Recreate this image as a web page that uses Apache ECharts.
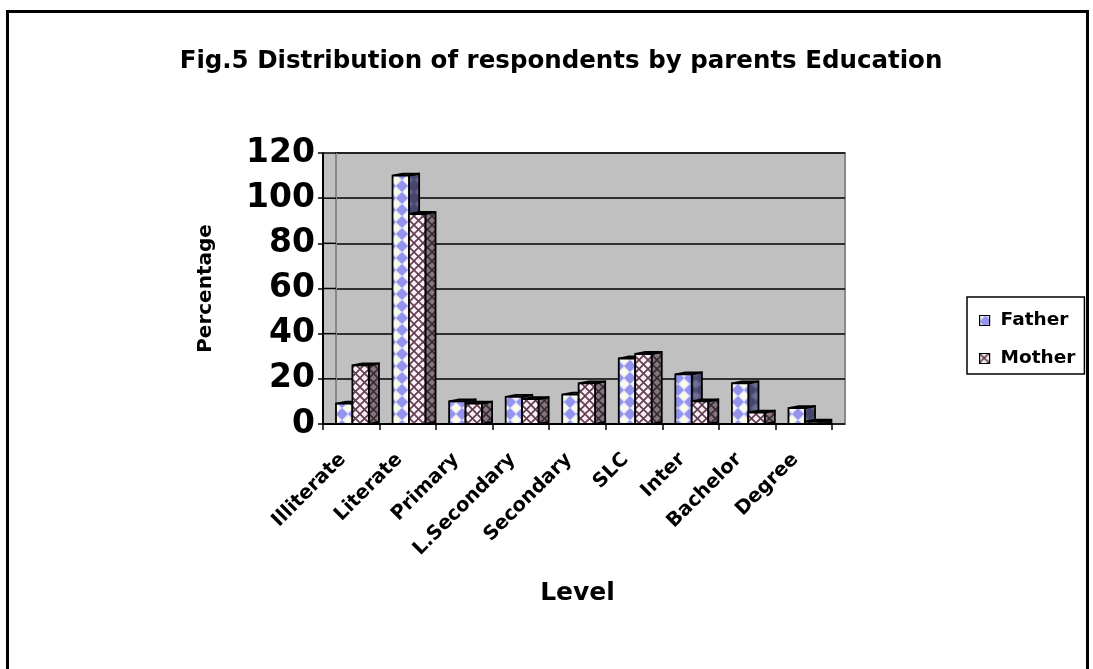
<!DOCTYPE html>
<html>
<head>
<meta charset="utf-8">
<title>Distribution of respondents by parents Education</title>
<script src="https://cdn.jsdelivr.net/npm/echarts@6/dist/echarts.min.js"></script>
<style>
  html, body { margin: 0; padding: 0; background: #ffffff; }
  #chart { width: 1093px; height: 669px; }
</style>
</head>
<body>
<div id="chart"></div>
<script>
// Education levels and respondent counts per parent
const categories = ['Illiterate', 'Literate', 'Primary', 'L.Secondary', 'Secondary', 'SLC', 'Inter', 'Bachelor', 'Degree'];
const fatherValues = [9, 110, 10, 12, 13, 29, 22, 18, 7];
const motherValues = [26, 93, 9, 11, 18, 31, 10, 5, 1];
const yTicks = [0, 20, 40, 60, 80, 100, 120];

const FONT = 'DejaVu Sans';

// Layout of the pseudo-3D plot: front plane plus a back wall shifted right
const plotLeft = 323, plotTop = 153, plotWidth = 509, plotHeight = 271, wallDepth = 13;

function makeTile(w, h, draw) {
  const c = document.createElement('canvas');
  c.width = w; c.height = h;
  draw(c.getContext('2d'), w, h);
  return c;
}
// Checker of diamonds: coloured diamond in the middle, pale diamonds at the corners
function diamondTile(bg, fg, pale) {
  return makeTile(12, 12, (ctx) => {
    ctx.fillStyle = bg; ctx.fillRect(0, 0, 12, 12);
    ctx.fillStyle = fg;
    ctx.beginPath(); ctx.moveTo(6, 0); ctx.lineTo(12, 6); ctx.lineTo(6, 12); ctx.lineTo(0, 6); ctx.closePath(); ctx.fill();
    ctx.fillStyle = pale;
    [[0, 0], [12, 0], [0, 12], [12, 12]].forEach(([cx, cy]) => {
      ctx.beginPath(); ctx.moveTo(cx, cy - 4); ctx.lineTo(cx + 4, cy); ctx.lineTo(cx, cy + 4); ctx.lineTo(cx - 4, cy); ctx.closePath(); ctx.fill();
    });
  });
}
function hatchTile(bg, fg) {
  return makeTile(9, 9, (ctx) => {
    ctx.fillStyle = bg; ctx.fillRect(0, 0, 9, 9);
    ctx.strokeStyle = fg; ctx.lineWidth = 1.6;
    ctx.beginPath(); ctx.moveTo(-1, -1); ctx.lineTo(10, 10); ctx.moveTo(10, -1); ctx.lineTo(-1, 10); ctx.stroke();
  });
}
const pat = (canvas) => ({ image: canvas, repeat: 'repeat' });

const fatherFront = pat(diamondTile('#e6e8fb', '#9494ec', '#fbfde6'));
const fatherSide = pat(diamondTile('#55557a', '#46466c', '#6e6e94'));
const motherFront = pat(hatchTile('#fbeef5', '#5e3e4e'));
const motherSide = pat(hatchTile('#84767e', '#3a2a34'));

// Draws one column as a front face with a top and a right-hand side face
function columnRenderer(offsetRatio, front, side) {
  return function (params, api) {
    const idx = api.value(0);
    const v = api.value(1);
    const base = api.coord([idx, 0]);
    const top = api.coord([idx, v]);
    const band = api.size([1, 0])[0];
    const w = band * 0.29, dx = band * 0.18, dy = 2;
    const x0 = base[0] + band * offsetRatio, x1 = x0 + w;
    const yb = base[1], yt = top[1];
    const edge = { stroke: '#000', lineWidth: 1.8 };
    return {
      type: 'group',
      children: [
        { type: 'polygon', shape: { points: [[x1, yt], [x1 + dx, yt - dy], [x1 + dx, yb - dy], [x1, yb]] }, style: Object.assign({ fill: side }, edge) },
        { type: 'polygon', shape: { points: [[x0, yt], [x1, yt], [x1 + dx, yt - dy], [x0 + dx, yt - dy]] }, style: Object.assign({ fill: side }, edge) },
        { type: 'rect', shape: { x: x0, y: yt, width: w, height: yb - yt }, style: Object.assign({ fill: front }, edge) }
      ]
    };
  };
}

// Left side wall: grey strip with short grid segments joining the back wall
function wallRenderer(params, api) {
  const cs = params.coordSys;
  const y = api.coord([0, api.value(1)])[1];
  const children = [];
  if (params.dataIndex === 0) {
    children.push({ type: 'rect', shape: { x: cs.x + 1, y: cs.y, width: wallDepth, height: cs.height }, style: { fill: '#c0c0c0' } });
    children.push({ type: 'line', shape: { x1: cs.x + wallDepth, y1: cs.y, x2: cs.x + wallDepth, y2: cs.y + cs.height }, style: { stroke: '#888', lineWidth: 2 } });
  }
  children.push({ type: 'line', shape: { x1: cs.x, y1: y, x2: cs.x + wallDepth, y2: y }, style: { stroke: '#000', lineWidth: 1.5 } });
  return { type: 'group', children };
}

const chart = echarts.init(document.getElementById('chart'), null, { renderer: 'canvas' });

chart.setOption({
  backgroundColor: '#ffffff',
  animation: false,
  title: {
    text: 'Fig.5 Distribution of respondents by parents Education',
    left: 556, top: 44, textAlign: 'center',
    textStyle: { fontFamily: FONT, fontSize: 24.5, fontWeight: 'bold', color: '#000' }
  },
  legend: {
    orient: 'vertical', left: 967, top: 297,
    borderColor: '#000', borderWidth: 1.5,
    padding: [14, 9, 6, 12],
    itemWidth: 10, itemHeight: 10, itemGap: 19,
    textStyle: { fontFamily: FONT, fontSize: 18.5, fontWeight: 'bold', color: '#000', padding: [0, 0, 0, 6] },
    data: [
      { name: 'Father', icon: 'rect', itemStyle: { color: fatherFront, borderColor: '#000', borderWidth: 1.2 } },
      { name: 'Mother', icon: 'rect', itemStyle: { color: motherFront, borderColor: '#000', borderWidth: 1.2 } }
    ]
  },
  graphic: [{
    type: 'rect', silent: true, z: 10,
    shape: { x: 7.5, y: 11.5, width: 1080, height: 720 },
    style: { fill: 'none', stroke: '#000', lineWidth: 3 }
  }],
  grid: [
    { left: plotLeft + wallDepth, top: plotTop, width: plotWidth, height: plotHeight, show: true,
      backgroundColor: '#c0c0c0', borderColor: '#888', borderWidth: 2 },
    { left: plotLeft, top: plotTop, width: plotWidth, height: plotHeight }
  ],
  xAxis: [
    { gridIndex: 0, type: 'category', data: categories, show: false },
    { gridIndex: 1, type: 'category', data: categories, z: 3,
      axisLine: { lineStyle: { color: '#000', width: 2 } },
      axisTick: { show: true, length: 6, lineStyle: { color: '#000', width: 1.5 } },
      axisLabel: { interval: 0, rotate: 45, margin: 24, padding: [0, 12, 0, 0], color: '#000', fontFamily: FONT, fontSize: 19.5, fontWeight: 'bold' },
      name: 'Level', nameLocation: 'middle', nameGap: 157,
      nameTextStyle: { fontFamily: FONT, fontSize: 25, fontWeight: 'bold', color: '#000' }
    }
  ],
  yAxis: [
    { gridIndex: 0, type: 'value', min: 0, max: 120, interval: 20,
      axisLine: { show: false }, axisTick: { show: false }, axisLabel: { show: false },
      splitLine: { lineStyle: { color: '#000', width: 1.5 } } },
    { gridIndex: 1, type: 'value', min: 0, max: 120, interval: 20, z: 3,
      axisLine: { show: true, lineStyle: { color: '#000', width: 2 } },
      axisTick: { show: true, length: 5, lineStyle: { color: '#000', width: 1.5 } },
      axisLabel: { margin: 8, color: '#000', fontFamily: FONT, fontSize: 33, fontWeight: 'bold' },
      splitLine: { show: false },
      name: 'Percentage', nameLocation: 'middle', nameGap: 107, nameRotate: 90,
      nameTextStyle: { fontFamily: FONT, fontSize: 20, fontWeight: 'bold', color: '#000' }
    }
  ],
  series: [
    { name: 'wall', type: 'custom', xAxisIndex: 1, yAxisIndex: 1, z: 1, silent: true,
      renderItem: wallRenderer, data: yTicks.map(v => [0, v]) },
    { name: 'Father', type: 'custom', xAxisIndex: 1, yAxisIndex: 1, z: 2,
      itemStyle: { color: fatherFront },
      renderItem: columnRenderer(-0.27, fatherFront, fatherSide),
      encode: { x: 0, y: 1 },
      data: fatherValues.map((v, i) => [i, v]) },
    { name: 'Mother', type: 'custom', xAxisIndex: 1, yAxisIndex: 1, z: 2,
      itemStyle: { color: motherFront },
      renderItem: columnRenderer(0.02, motherFront, motherSide),
      encode: { x: 0, y: 1 },
      data: motherValues.map((v, i) => [i, v]) }
  ]
});
</script>
</body>
</html>
